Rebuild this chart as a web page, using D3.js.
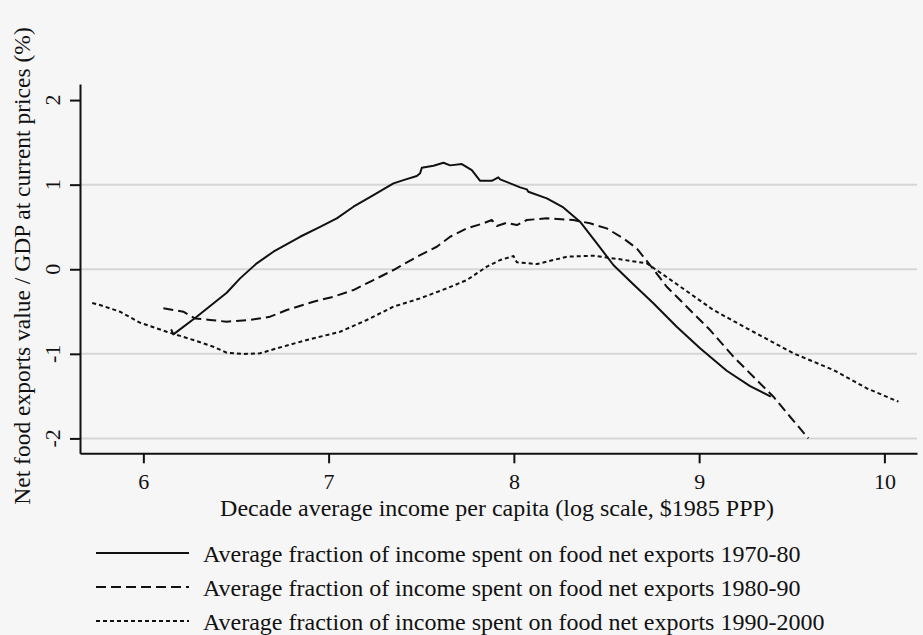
<!DOCTYPE html>
<html>
<head>
<meta charset="utf-8">
<script src="https://cdn.jsdelivr.net/npm/d3@7"></script>
<style>
  html, body { margin: 0; padding: 0; background: #f6f6f6; }
  svg { display: block; }
  text { font-family: "Liberation Serif", "Times New Roman", serif; fill: #111; }
</style>
</head>
<body>
<svg id="chart" width="923" height="635"></svg>
<script>
// ---- data ----
const xTicks = [6, 7, 8, 9, 10];
const yTicks = [-2, -1, 0, 1, 2];
const gridValues = [-2, -1, 0, 1];

const seriesNames = [
  "Average fraction of income spent on food net exports 1970-80",
  "Average fraction of income spent on food net exports 1980-90",
  "Average fraction of income spent on food net exports 1990-2000"
];

const x1970 = [6.150, 6.162, 6.288, 6.450, 6.522, 6.612, 6.702, 6.846, 6.954, 7.044, 7.134, 7.242, 7.350, 7.404, 7.476, 7.494, 7.503, 7.566, 7.620, 7.656, 7.719, 7.773, 7.818, 7.881, 7.916, 7.926, 8.034, 8.070, 8.078, 8.178, 8.267, 8.357, 8.448, 8.537, 8.636, 8.753, 8.879, 9.005, 9.149, 9.275, 9.387];
const y1970 = [-0.71, -0.77, -0.561, -0.278, -0.108, 0.070, 0.207, 0.384, 0.502, 0.601, 0.739, 0.877, 1.015, 1.054, 1.102, 1.134, 1.200, 1.224, 1.259, 1.228, 1.244, 1.173, 1.046, 1.046, 1.086, 1.063, 0.968, 0.944, 0.916, 0.838, 0.731, 0.562, 0.306, 0.050, -0.159, -0.403, -0.680, -0.935, -1.200, -1.381, -1.507];

const x1980 = [6.108, 6.216, 6.279, 6.360, 6.450, 6.576, 6.684, 6.774, 6.918, 7.026, 7.134, 7.242, 7.350, 7.494, 7.584, 7.656, 7.746, 7.836, 7.881, 7.908, 7.962, 8.016, 8.070, 8.178, 8.321, 8.411, 8.501, 8.591, 8.663, 8.735, 8.825, 8.933, 9.059, 9.185, 9.293, 9.401, 9.491, 9.590];
const y1980 = [-0.462, -0.502, -0.581, -0.600, -0.620, -0.600, -0.561, -0.482, -0.384, -0.325, -0.246, -0.128, -0.009, 0.168, 0.266, 0.384, 0.483, 0.543, 0.582, 0.511, 0.550, 0.522, 0.582, 0.602, 0.582, 0.543, 0.483, 0.365, 0.247, 0.050, -0.207, -0.443, -0.719, -1.034, -1.271, -1.507, -1.744, -2.000];

const x1990 = [5.724, 5.766, 5.874, 5.982, 6.126, 6.270, 6.378, 6.450, 6.540, 6.630, 6.720, 6.882, 7.062, 7.206, 7.350, 7.494, 7.638, 7.746, 7.854, 7.926, 7.998, 8.016, 8.124, 8.286, 8.430, 8.574, 8.718, 8.861, 9.077, 9.275, 9.509, 9.725, 9.905, 10.076];
const y1990 = [-0.400, -0.423, -0.502, -0.632, -0.739, -0.837, -0.916, -0.987, -1.002, -0.994, -0.935, -0.837, -0.739, -0.600, -0.443, -0.344, -0.226, -0.128, 0.030, 0.109, 0.156, 0.082, 0.061, 0.148, 0.160, 0.117, 0.070, -0.148, -0.482, -0.719, -0.994, -1.191, -1.408, -1.566];

const xTitle = "Decade average income per capita (log scale, $1985 PPP)";
const yTitle = "Net food exports value / GDP at current prices (%)";

// ---- chart ----
const svg = d3.select("#chart");
svg.append("rect").attr("width", 923).attr("height", 635).attr("fill", "#f6f6f6");

const x = d3.scaleLinear().domain([5.658, 10.176]).range([80, 917]);
const y = d3.scaleLinear().domain([-2.176, 2.19]).range([453.3, 84]);

// gridlines
svg.append("g").selectAll("line").data(gridValues).join("line")
  .attr("x1", 80).attr("x2", 917)
  .attr("y1", d => y(d)).attr("y2", d => y(d))
  .attr("stroke", "#d6d6d6").attr("stroke-width", 2);

// series
const series = [
  { xs: x1970, ys: y1970, dash: null },
  { xs: x1980, ys: y1980, dash: "10,5" },
  { xs: x1990, ys: y1990, dash: "4,3" }
];
const line = d3.line().x(d => x(d[0])).y(d => y(d[1]));
series.forEach(s => {
  const pts = s.xs.map((v, i) => [v, s.ys[i]]);
  svg.append("path").datum(pts)
    .attr("d", line)
    .attr("fill", "none")
    .attr("stroke", "#111")
    .attr("stroke-width", 2)
    .attr("stroke-linejoin", "round")
    .attr("stroke-dasharray", s.dash);
});

// axes
const fmt = d => String(d);
const xAxis = svg.append("g").attr("transform", `translate(0,${y.range()[0]})`)
  .call(d3.axisBottom(x).tickValues(xTicks).tickSize(10).tickSizeOuter(0).tickPadding(10).tickFormat(fmt));
xAxis.selectAll("text").attr("font-size", 22).attr("font-family", "Liberation Serif").attr("fill", "#111");

const yAxis = svg.append("g").attr("transform", `translate(80,0)`)
  .call(d3.axisLeft(y).tickValues(yTicks).tickSize(10).tickSizeOuter(0).tickFormat(fmt));
yAxis.selectAll("text").remove();
svg.append("g").selectAll("text").data(yTicks).join("text")
  .attr("transform", d => `translate(60,${y(d)}) rotate(-90)`)
  .attr("text-anchor", "middle")
  .attr("font-size", 22)
  .text(fmt);

[xAxis, yAxis].forEach(a => {
  a.select(".domain").attr("stroke", "#111").attr("stroke-width", 2);
  a.selectAll(".tick line").attr("stroke", "#111").attr("stroke-width", 2);
});

// titles
svg.append("text").attr("x", 497).attr("y", 516)
  .attr("text-anchor", "middle").attr("font-size", 24).text(xTitle);
svg.append("text").attr("transform", "translate(30,266) rotate(-90)")
  .attr("text-anchor", "middle").attr("font-size", 23.5).text(yTitle);

// legend
const legend = svg.append("g");
series.forEach((s, i) => {
  const ly = 553 + i * 34;
  legend.append("line").attr("x1", 96).attr("x2", 189).attr("y1", ly).attr("y2", ly)
    .attr("stroke", "#111").attr("stroke-width", 2).attr("stroke-dasharray", s.dash);
  legend.append("text").attr("x", 203).attr("y", ly + 9).attr("font-size", 24).text(seriesNames[i]);
});
</script>
</body>
</html>
